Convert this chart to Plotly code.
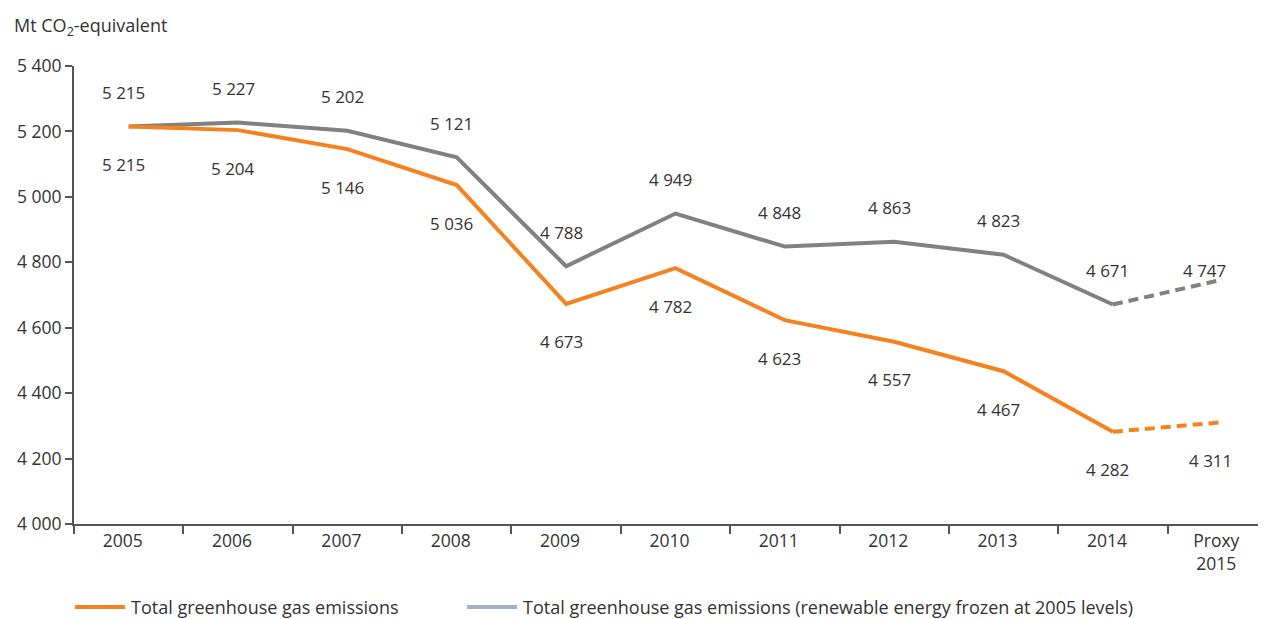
import plotly.graph_objects as go

categories = ["2005", "2006", "2007", "2008", "2009", "2010", "2011", "2012", "2013", "2014", "Proxy<br>2015"]
total_ghg = [5215, 5204, 5146, 5036, 4673, 4782, 4623, 4557, 4467, 4282, 4311]
frozen_res = [5215, 5227, 5202, 5121, 4788, 4949, 4848, 4863, 4823, 4671, 4747]
y_ticks = [4000, 4200, 4400, 4600, 4800, 5000, 5200, 5400]
legend_names = ["Total greenhouse gas emissions",
                "Total greenhouse gas emissions (renewable energy frozen at 2005 levels)"]

ORANGE = "#f58220"
GREY = "#818181"
LEGEND_GREY = "#a3b1c9"
TEXT = "#333333"
AXIS = "#555555"
FONT = "Open Sans"


def fmt(v):
    return f"{v:,}".replace(",", " ")


fig = go.Figure()

for vals, color in [(frozen_res, GREY), (total_ghg, ORANGE)]:
    # observed years solid, proxy year dashed
    fig.add_trace(go.Scatter(x=categories[:-1], y=vals[:-1], mode="lines",
                             line=dict(color=color, width=4), showlegend=False, hoverinfo="skip"))
    fig.add_trace(go.Scatter(x=categories[-2:], y=vals[-2:], mode="lines",
                             line=dict(color=color, width=4, dash="10px,6px"),
                             showlegend=False, hoverinfo="skip"))

label_font = dict(size=17, color=TEXT, family=FONT)
annotations = []
for i in range(len(categories)):
    last = i == len(categories) - 1
    annotations.append(dict(x=i, y=frozen_res[i], text=fmt(frozen_res[i]), showarrow=False,
                            xshift=-18 if last else -5, yshift=9 if last else 34, font=label_font))
    annotations.append(dict(x=i, y=total_ghg[i], text=fmt(total_ghg[i]), showarrow=False,
                            xshift=-12 if last else -5, yshift=-38, font=label_font))

annotations.append(dict(xref="paper", yref="paper", x=0, y=1.0, xshift=-62, yshift=40,
                        xanchor="left", yanchor="middle", showarrow=False,
                        text="Mt CO<sub>2</sub>-equivalent", font=dict(size=18, color=TEXT, family=FONT)))

# hand-drawn legend below the plot (plotly's legend would push the bottom margin)
shapes = []
for name, color, x0 in zip(legend_names, [ORANGE, LEGEND_GREY], [0.0008, 0.3297]):
    shapes.append(dict(type="line", xref="paper", yref="paper", x0=x0, x1=x0 + 0.042,
                       y0=-0.181, y1=-0.181, line=dict(color=color, width=4)))
    annotations.append(dict(xref="paper", yref="paper", x=x0 + 0.045, y=-0.181, xanchor="left",
                            yanchor="middle", showarrow=False, text=name,
                            font=dict(size=18, color=TEXT, family=FONT)))

# page body has an 8px default margin, so the figure is 8px smaller and margins shifted
fig.update_layout(
    width=1258, height=611,
    margin=dict(l=66, r=0, t=58, b=95),
    paper_bgcolor="white", plot_bgcolor="white",
    font=dict(family=FONT, size=17, color=TEXT),
    annotations=annotations,
    shapes=shapes,
    showlegend=False,
)
fig.update_xaxes(
    type="category", range=[-0.5, 10.4], showgrid=False,
    showline=True, linecolor=AXIS, linewidth=2,
    ticks="outside", tickson="boundaries", ticklen=8, tickwidth=2, tickcolor=AXIS,
    ticklabelshift=-6, tickfont=dict(size=17.5),
)
fig.update_yaxes(
    range=[4000, 5400], tickvals=y_ticks, ticktext=[fmt(v) for v in y_ticks],
    showgrid=False, zeroline=False,
    showline=True, linecolor=AXIS, linewidth=2,
    ticks="outside", ticklen=7, tickwidth=2, tickcolor=AXIS, tickfont=dict(size=17.5),
)

fig.write_html("out.html")
